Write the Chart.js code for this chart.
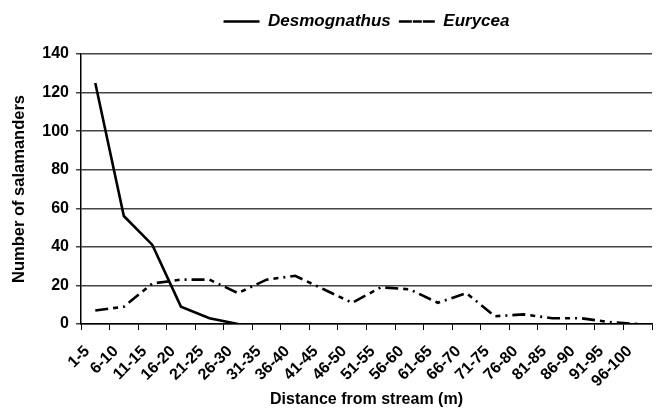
<!DOCTYPE html>
<html>
<head>
<meta charset="utf-8">
<script src="https://cdn.jsdelivr.net/npm/chart.js@4.4.1/dist/chart.umd.min.js"></script>
<style>
  html, body { margin: 0; padding: 0; background: #fff; }
  #wrap { width: 657px; height: 419px; }
</style>
</head>
<body>
<div id="wrap"><canvas id="chart" width="657" height="419"></canvas></div>
<script>
// jarak dari sungai (m)
const distanceLabels = ['1-5', '6-10', '11-15', '16-20', '21-25', '26-30', '31-35', '36-40', '41-45', '46-50',
    '51-55', '56-60', '61-65', '66-70', '71-75', '76-80', '81-85', '86-90', '91-95', '96-100'];
const desmognathus = [125, 56, 41, 9, 3, 0, null, null, null, null,
    null, null, null, null, null, null, null, null, null, null];
const eurycea = [7, 9, 21, 23, 23, 16, 23, 25, 18, 11,
    19, 18, 11, 16, 4, 5, 3, 3, 1, 0];
const yTicks = [0, 20, 40, 60, 80, 100, 120, 140];

const fontFamily = '"Liberation Sans", Arial, sans-serif';

// tambah tinggi legend supaya posisi area chart pas
const legendSpacer = {
    id: 'legendSpacer',
    beforeInit(chart) {
        const fitAsli = chart.legend.fit;
        chart.legend.fit = function () {
            fitAsli.bind(chart.legend)();
            this.height += 14;
        };
    }
};

const ctx = document.getElementById('chart').getContext('2d');
new Chart(ctx, {
    type: 'line',
    data: {
        labels: distanceLabels,
        datasets: [{
            label: 'Desmognathus',
            data: desmognathus,
            borderColor: '#000',
            backgroundColor: 'rgba(0,0,0,0)',
            borderWidth: 2.6,
            pointRadius: 0,
            tension: 0,
            spanGaps: false
        }, {
            label: 'Eurycea',
            data: eurycea,
            borderColor: '#000',
            backgroundColor: 'rgba(0,0,0,0)',
            borderWidth: 2.6,
            borderDash: [13, 5, 5, 5, 2, 5],
            pointRadius: 0,
            tension: 0
        }]
    },
    options: {
        responsive: false,
        animation: false,
        layout: { padding: { left: 8, right: 5, top: 5, bottom: 8 } },
        plugins: {
            legend: {
                position: 'top',
                fullSize: false,
                labels: {
                    boxWidth: 36,
                    boxHeight: 0,
                    color: '#000',
                    padding: 8,
                    font: { family: fontFamily, size: 17, weight: 'bold', style: 'italic' }
                }
            },
            tooltip: { enabled: false }
        },
        scales: {
            x: {
                offset: true,
                grid: {
                    display: true,
                    offset: true,
                    drawOnChartArea: false,
                    drawTicks: true,
                    tickLength: 6,
                    color: '#000',
                    lineWidth: 1
                },
                border: { display: true, color: '#000', width: 1.5 },
                ticks: {
                    color: '#000',
                    minRotation: 45,
                    maxRotation: 45,
                    autoSkip: false,
                    padding: 12,
                    labelOffset: -8,
                    font: { family: fontFamily, size: 16, weight: 'bold' }
                },
                title: {
                    display: true,
                    text: 'Distance from stream (m)',
                    color: '#000',
                    padding: { top: 14, bottom: 2 },
                    font: { family: fontFamily, size: 16, weight: 'bold' }
                },
                afterFit: function (scale) {
                    scale.height = 87;
                    // label miring jangan mempersempit area chart
                    scale.paddingLeft = 0;
                    scale.paddingRight = 0;
                }
            },
            y: {
                min: 0,
                max: 140,
                afterBuildTicks: function (scale) {
                    scale.ticks = yTicks.map(v => ({ value: v }));
                },
                grid: {
                    color: '#444',
                    lineWidth: 1.5,
                    tickLength: 5,
                    drawTicks: true
                },
                border: { display: true, color: '#000', width: 1.5 },
                ticks: {
                    color: '#000',
                    padding: 7,
                    font: { family: fontFamily, size: 16, weight: 'bold' }
                },
                title: {
                    display: true,
                    text: 'Number of salamanders',
                    color: '#000',
                    padding: { top: 2, bottom: 6 },
                    font: { family: fontFamily, size: 16.5, weight: 'bold' }
                },
                afterFit: function (scale) { scale.width = 73; }
            }
        }
    },
    plugins: [legendSpacer]
});
</script>
</body>
</html>
